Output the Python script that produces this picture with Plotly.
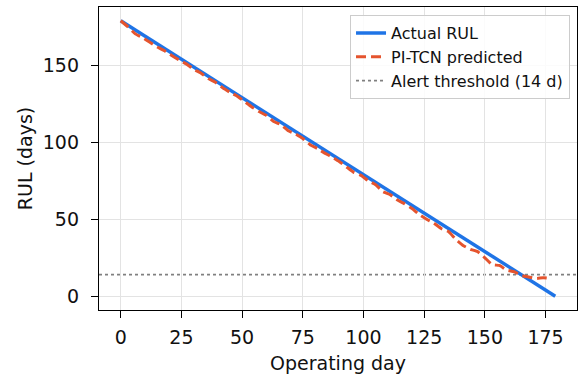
import plotly.graph_objects as go

# Data
actual_days = [0, 179]
actual_rul = [179, 0]

pred_days = [0, 3, 6, 9, 12, 15, 18, 21, 24, 27, 30, 33, 36, 39, 42, 45, 48, 51, 54, 57,
             60, 63, 66, 69, 72, 75, 78, 81, 84, 87, 90, 93, 96, 99, 102, 105, 108, 111, 114, 117,
             120, 123, 126, 129, 132, 135, 138, 141, 144, 147, 150, 153, 156, 159, 162, 165, 168, 171, 174, 177]
pred_rul = [179, 175, 170.5, 168, 165, 162, 159.5, 156.5, 153.5, 151, 147.5, 145, 141.5, 139, 135.5, 132.5, 130, 126.5, 123, 120,
            117.5, 113.5, 111.5, 107.5, 105.5, 102.5, 98.5, 96, 93, 90.5, 87.5, 84, 80.5, 78.5, 75, 72.5, 68, 66, 62.5, 60,
            57, 53, 50, 47.5, 44, 42, 37, 33, 30.5, 29, 25, 20.5, 20, 17, 16, 13.5, 12.5, 11.5, 12, 11.5]

alert_threshold = 14

x_ticks = [0, 25, 50, 75, 100, 125, 150, 175]
y_ticks = [0, 50, 100, 150]

BLUE = "#1f74e6"
ORANGE = "#e5542e"
GRAY = "#808080"
FONT = "DejaVu Sans"

fig = go.Figure()
fig.add_trace(go.Scatter(x=actual_days, y=actual_rul, mode="lines", name="Actual RUL",
                         line=dict(color=BLUE, width=3.5)))
fig.add_trace(go.Scatter(x=pred_days, y=pred_rul, mode="lines", name="PI-TCN predicted",
                         line=dict(color=ORANGE, width=3, dash="10px,5px", shape="spline", smoothing=0.3)))
fig.add_shape(type="line", xref="x domain", x0=0, x1=1, yref="y", y0=alert_threshold, y1=alert_threshold,
              line=dict(color=GRAY, width=1.8, dash="dot"),
              showlegend=True, name="Alert threshold (14 d)", layer="below")

axis_common = dict(showline=True, linecolor="black", linewidth=1.3, mirror=True,
                   ticks="outside", ticklen=7, tickwidth=1.3, tickcolor="black",
                   showgrid=True, gridcolor="#e3e3e3", gridwidth=1, zeroline=False,
                   tickfont=dict(family=FONT, size=19, color="#111"))

fig.update_xaxes(range=[-8.95, 187.95], tickvals=x_ticks, ticklabelstandoff=3,
                 title=dict(text="Operating day", font=dict(family=FONT, size=19, color="#111"), standoff=9),
                 **axis_common)
fig.update_yaxes(range=[-8.95, 187.95], tickvals=y_ticks, ticklabelstandoff=8,
                 title=dict(text="RUL (days)", font=dict(family=FONT, size=19, color="#111"), standoff=5),
                 **axis_common)

fig.update_layout(
    width=578, height=376,
    margin=dict(l=99, r=1, t=7, b=66),
    plot_bgcolor="white", paper_bgcolor="white",
    font=dict(family=FONT),
    legend=dict(x=0.985, y=0.974, xanchor="right", yanchor="top",
                bgcolor="rgba(255,255,255,0.85)", bordercolor="#cccccc", borderwidth=1.2,
                font=dict(family=FONT, size=16, color="#111"),
                tracegroupgap=0, itemwidth=30),
    showlegend=True,
)

fig.write_html("out.html")
